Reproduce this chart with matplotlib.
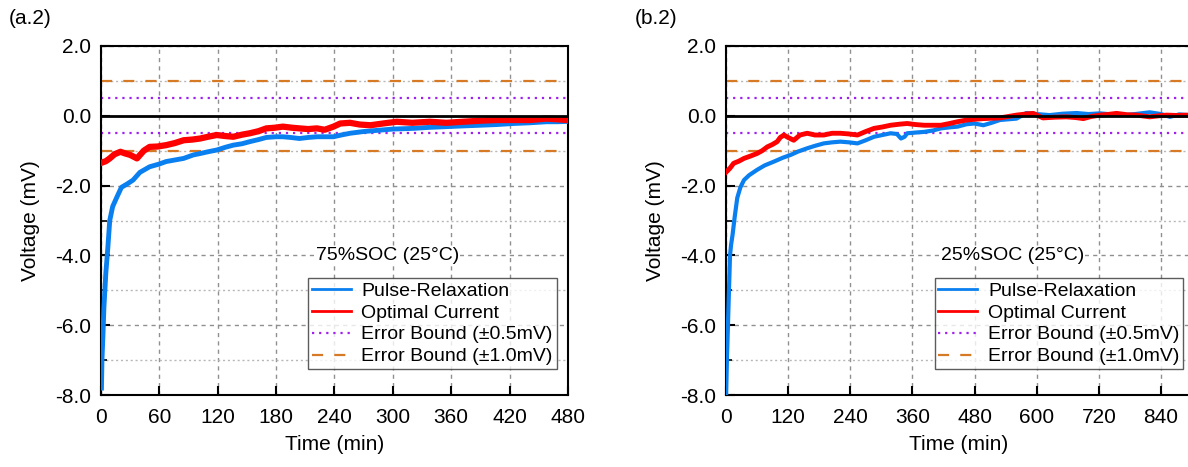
import numpy as np
import matplotlib
matplotlib.use("Agg")
import matplotlib.pyplot as plt
from matplotlib.ticker import MultipleLocator, FormatStrFormatter

plt.rcParams['font.family'] = ['Liberation Sans', 'DejaVu Sans']
plt.rcParams['axes.unicode_minus'] = False

# (a.2) 75%SOC
t_a_pulse = [0.5, 1, 2, 3, 5, 7, 9, 12, 16, 21, 27, 33, 40, 50, 60, 67, 75, 85, 95, 102,
             110, 119, 128, 136, 145, 153, 162, 170, 180, 187, 195, 204, 213, 222, 230, 239,
             247, 256, 270, 287, 300, 321, 338, 355, 372, 390, 407, 424, 441, 458, 470, 479]
v_a_pulse = [-7.8, -7.0, -6.3, -5.5, -4.5, -3.8, -3.0, -2.6, -2.35, -2.05, -1.95, -1.84, -1.62,
             -1.46, -1.38, -1.31, -1.27, -1.22, -1.12, -1.08, -1.03, -0.98, -0.9, -0.84, -0.8,
             -0.74, -0.68, -0.62, -0.6, -0.6, -0.62, -0.65, -0.62, -0.6, -0.6, -0.6, -0.55,
             -0.5, -0.45, -0.41, -0.38, -0.36, -0.33, -0.31, -0.29, -0.27, -0.25, -0.22, -0.2,
             -0.17, -0.17, -0.16]
t_a_opt = [0, 5, 9, 14, 20, 25, 30, 37, 44, 50, 58, 67, 76, 85, 94, 102, 110, 119, 128, 136,
           145, 153, 162, 170, 179, 187, 196, 204, 213, 222, 230, 239, 246, 256, 266, 277,
           290, 304, 320, 338, 355, 372, 390, 407, 424, 441, 458, 470, 479]
v_a_opt = [-1.35, -1.3, -1.22, -1.1, -1.03, -1.08, -1.12, -1.22, -1.0, -0.89, -0.88, -0.84,
           -0.78, -0.7, -0.68, -0.65, -0.6, -0.55, -0.58, -0.6, -0.54, -0.5, -0.44, -0.36,
           -0.34, -0.31, -0.34, -0.36, -0.38, -0.36, -0.4, -0.31, -0.22, -0.2, -0.25, -0.27,
           -0.22, -0.17, -0.2, -0.17, -0.2, -0.17, -0.14, -0.12, -0.12, -0.12, -0.08, -0.1, -0.12]

# (b.2) 25%SOC
t_b_pulse = [0.5, 2, 4, 6, 8, 10, 13, 17, 22, 28, 35, 45, 60, 75, 93, 110, 125, 140, 157, 172,
             189, 205, 221, 238, 254, 270, 286, 302, 318, 330, 338, 345, 350, 366, 383, 400,
             415, 432, 447, 465, 480, 497, 513, 529, 545, 561, 580, 600, 625, 650, 677, 700,
             722, 745, 767, 790, 818, 840, 857, 875, 892]
v_b_pulse = [-8.0, -7.0, -6.0, -5.0, -4.0, -3.7, -3.4, -2.9, -2.35, -2.05, -1.84, -1.7, -1.55,
             -1.42, -1.31, -1.2, -1.12, -1.02, -0.93, -0.86, -0.79, -0.76, -0.74, -0.76, -0.79,
             -0.7, -0.6, -0.55, -0.5, -0.52, -0.65, -0.6, -0.5, -0.48, -0.46, -0.42, -0.36,
             -0.33, -0.31, -0.24, -0.22, -0.27, -0.2, -0.12, -0.1, -0.08, 0.08, 0.05, 0.02,
             0.06, 0.08, 0.05, 0.07, 0.04, 0.02, 0.05, 0.1, 0.05, -0.03, 0.04, 0.02]
t_b_opt = [0, 8, 15, 25, 35, 48, 60, 70, 80, 90, 99, 105, 112, 120, 131, 143, 157, 172, 189,
           205, 221, 238, 254, 270, 286, 302, 318, 335, 350, 366, 383, 400, 415, 432, 447, 465,
           480, 497, 513, 529, 545, 561, 578, 593, 612, 635, 657, 675, 690, 705, 722, 738,
           754, 775, 793, 818, 835, 851, 870, 892]
v_b_opt = [-1.62, -1.5, -1.36, -1.3, -1.22, -1.15, -1.08, -1.0, -0.89, -0.82, -0.74, -0.62,
           -0.55, -0.62, -0.7, -0.55, -0.5, -0.55, -0.55, -0.5, -0.5, -0.52, -0.55, -0.45,
           -0.36, -0.32, -0.27, -0.24, -0.22, -0.25, -0.27, -0.27, -0.27, -0.22, -0.17, -0.12,
           -0.1, -0.08, -0.07, -0.06, -0.02, 0.02, 0.05, 0.07, -0.06, -0.04, -0.03, -0.05,
           -0.08, -0.02, 0.02, 0.04, 0.07, 0.03, 0.02, -0.03, 0.0, 0.02, 0.01, 0.02]

labels = ['Pulse-Relaxation', 'Optimal Current', 'Error Bound (\u00b10.5mV)', 'Error Bound (\u00b11.0mV)']
bound_small = 0.5
bound_big = 1.0

BLUE = '#0a7ff0'
RED = '#ff0000'
PURPLE = '#a020f0'
ORANGE = '#d77a26'


def draw_panel(ax, t_p, v_p, t_o, v_o, xmax, xstep, note, note_x, leg_right, lw_p, lw_o):
    ax.plot(t_p, v_p, color=BLUE, lw=lw_p, zorder=3)
    ax.plot(t_o, v_o, color=RED, lw=lw_o, zorder=4)
    ax.axhline(0, color='black', lw=2, zorder=5)
    for s in (1, -1):
        ax.axhline(s * bound_small, color=PURPLE, lw=1.6, ls=(0, (1, 2.2)), zorder=2)
        ax.axhline(s * bound_big, color=ORANGE, lw=1.6, ls=(0, (5, 5)), zorder=2)

    ax.set_xlim(0, xmax)
    ax.set_ylim(-8, 2)
    ax.xaxis.set_major_locator(MultipleLocator(xstep))
    ax.yaxis.set_major_locator(MultipleLocator(2))
    ax.yaxis.set_minor_locator(MultipleLocator(1))
    ax.yaxis.set_major_formatter(FormatStrFormatter('%.1f'))
    ax.tick_params(which='major', direction='in', length=6.5, width=1.5, labelsize=15)
    ax.tick_params(axis='x', which='major', pad=9)
    ax.tick_params(axis='y', which='major', pad=7)
    ax.tick_params(which='minor', direction='in', length=4, width=1.2)
    ax.tick_params(axis='x', which='minor', length=0)
    ax.grid(which='major', color='#909090', ls=(0, (3, 3)), lw=1)
    ax.grid(which='minor', axis='y', color='#b8b8b8', ls=(0, (1.5, 2)), lw=1)
    for sp in ax.spines.values():
        sp.set_linewidth(1.5)

    ax.set_xlabel('Time (min)', fontsize=15, labelpad=6)
    ax.set_ylabel('Voltage (mV)', fontsize=15, labelpad=11)

    handles = [plt.Line2D([], [], color=BLUE, lw=2),
               plt.Line2D([], [], color=RED, lw=2),
               plt.Line2D([], [], color=PURPLE, lw=1.6, ls=(0, (1, 2.2))),
               plt.Line2D([], [], color=ORANGE, lw=1.6, ls=(0, (5, 5)))]
    leg = ax.legend(handles, labels, loc='lower right', bbox_to_anchor=(leg_right, 0.074),
                    fontsize=14, frameon=True, fancybox=False, borderpad=0.2,
                    labelspacing=0.22, handlelength=2.0, handletextpad=0.55, borderaxespad=0)
    leg.get_frame().set_edgecolor('#333333')
    leg.get_frame().set_linewidth(1)
    leg.set_zorder(10)

    ax.text(note_x, -4.0, note, fontsize=14, va='center', ha='left', zorder=9,
            bbox=dict(facecolor='white', edgecolor='none', pad=0.5))


fig = plt.figure(figsize=(11.88, 4.67), dpi=100)
ax1 = fig.add_axes([0.085, 0.154, 0.393, 0.7475])
ax2 = fig.add_axes([0.611, 0.154, 0.3925, 0.7475])

draw_panel(ax1, t_a_pulse, v_a_pulse, t_a_opt, v_a_opt, 480, 60,
           '75%SOC (25\u00b0C)', 221, 0.976, 3.5, 4.5)
draw_panel(ax2, t_b_pulse, v_b_pulse, t_b_opt, v_b_opt, 900, 120,
           '25%SOC (25\u00b0C)', 415, 0.981, 3, 3.5)

fig.text(0.007, 0.961, '(a.2)', fontsize=15, va='center', ha='left')
fig.text(0.534, 0.961, '(b.2)', fontsize=15, va='center', ha='left')

plt.savefig('out.png', dpi=100)
plt.close()
